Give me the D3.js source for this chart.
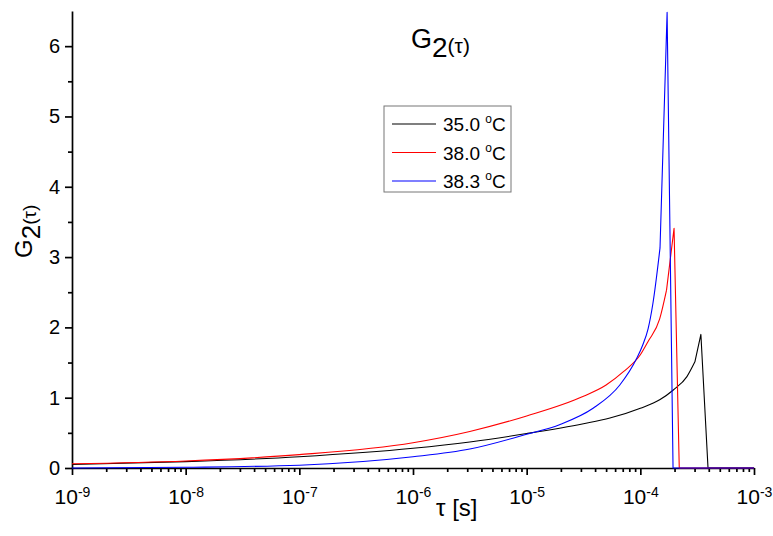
<!DOCTYPE html>
<html>
<head>
<meta charset="utf-8">
<script src="https://cdn.jsdelivr.net/npm/d3@7"></script>
<style>
    body { margin: 0; background: #fff; }
    svg { font-family: "Liberation Sans", Arial, sans-serif; }
    .axis path, .axis line { stroke: #000; stroke-width: 1.7px; }
    .axis text { font-size: 20px; fill: #000; }
</style>
</head>
<body>
<div id="vis"></div>
<script>
const margin = { top: 11, right: 19, bottom: 68, left: 72 };
const width = 773 - margin.left - margin.right;
const height = 536 - margin.top - margin.bottom;

// tau [s] and G2 values (last 3 points: peak, drop, tail)
const tau350 = [1e-9, 1e-8, 1e-7, 1e-6, 3.16e-6, 1e-5, 3.16e-5, 5.4e-5, 1e-4, 1.48e-4, 1.95e-4, 2.57e-4, 3.02e-4, 3.41e-4, 3.94e-4, 1e-3];
const g350 = [0.05, 0.09, 0.16, 0.28, 0.37, 0.49, 0.63, 0.71, 0.85, 0.97, 1.11, 1.30, 1.51, 1.90, 0, 0];

const tau380 = [1e-9, 1e-8, 1e-7, 1e-6, 3.16e-6, 1e-5, 3.16e-5, 5.0e-5, 7.1e-5, 1e-4, 1.17e-4, 1.48e-4, 1.70e-4, 1.98e-4, 2.2e-4, 1e-3];
const g380 = [0.06, 0.10, 0.19, 0.36, 0.52, 0.74, 1.02, 1.18, 1.37, 1.61, 1.80, 2.12, 2.53, 3.41, 0, 0];

const tau383 = [1e-9, 1e-8, 1e-7, 1e-6, 3.16e-6, 1e-5, 1.97e-5, 3.84e-5, 6.6e-5, 9.3e-5, 1.05e-4, 1.17e-4, 1.29e-4, 1.49e-4, 1.72e-4, 1.94e-4, 1e-3];
const g383 = [0.0, 0.01, 0.04, 0.16, 0.27, 0.48, 0.62, 0.85, 1.18, 1.56, 1.75, 1.98, 2.34, 3.13, 6.48, 0, 0];

const seriesNames = ['35.0', '38.0', '38.3'];
const seriesColors = ['#000000', '#ff0000', '#0000ff'];
const seriesTau = [tau350, tau380, tau383];
const seriesG = [g350, g380, g383];

const xMajor = [-9, -8, -7, -6, -5, -4, -3];
const yMajor = [0, 1, 2, 3, 4, 5, 6];
const yMinor = [0.5, 1.5, 2.5, 3.5, 4.5, 5.5];

const svg = d3.select('#vis')
    .append('svg')
    .attr('width', width + margin.left + margin.right)
    .attr('height', height + margin.top + margin.bottom)
    .append('g')
    .attr('transform', `translate(${margin.left},${margin.top})`);

const xScale = d3.scaleLog().domain([1e-9, 1e-3]).range([0, width]);
const yScale = d3.scaleLinear().domain([0, 6.5]).range([height, 0]);

// minor x ticks (2..9 inside each decade)
let xMinor = [];
xMajor.slice(0, -1).forEach(e => {
    for (let k = 2; k <= 9; k++) xMinor.push(k * Math.pow(10, e));
});

svg.append('g')
    .attr('class', 'axis')
    .attr('transform', `translate(0,${height})`)
    .call(d3.axisBottom(xScale).tickValues(xMinor).tickSize(4).tickFormat(''))
    .select('.domain').remove();

const xAxis = svg.append('g')
    .attr('class', 'axis')
    .attr('transform', `translate(0,${height})`)
    .call(d3.axisBottom(xScale)
        .tickValues(xMajor.map(e => Math.pow(10, e)))
        .tickSize(7).tickSizeOuter(0).tickPadding(8)
        .tickFormat(''));

xAxis.selectAll('.tick text')
    .attr('dy', '1.0em')
    .style('font-size', '21px')
    .each(function (d) {
        const t = d3.select(this);
        t.append('tspan').text('10');
        t.append('tspan')
            .attr('dy', '-0.5em')
            .style('font-size', '14px')
            .text(Math.round(Math.log10(d)));
    });

svg.append('g')
    .attr('class', 'axis')
    .call(d3.axisLeft(yScale).tickValues(yMinor).tickSize(4).tickFormat(''))
    .select('.domain').remove();

svg.append('g')
    .attr('class', 'axis')
    .call(d3.axisLeft(yScale).tickValues(yMajor).tickSize(7).tickSizeOuter(0).tickPadding(5)
        .tickFormat(d3.format('d')));

// curves: smooth rise, straight segments into the peak and the drop
const smooth = d3.line()
    .x(d => xScale(d[0]))
    .y(d => yScale(d[1]))
    .curve(d3.curveMonotoneX);
const straight = d3.line()
    .x(d => xScale(d[0]))
    .y(d => yScale(d[1]));

seriesTau.forEach((taus, i) => {
    const pts = taus.map((t, j) => [t, seriesG[i][j]]);
    const n = pts.length;
    svg.append('path')
        .datum(pts.slice(0, n - 3))
        .attr('fill', 'none')
        .attr('stroke', seriesColors[i])
        .attr('stroke-width', 1.1)
        .attr('d', smooth);
    svg.append('path')
        .datum(pts.slice(n - 4))
        .attr('fill', 'none')
        .attr('stroke', seriesColors[i])
        .attr('stroke-width', 1.1)
        .attr('stroke-linejoin', 'round')
        .attr('d', straight);
});

// title
const title = svg.append('text')
    .attr('x', 411 - margin.left)
    .attr('y', 48 - margin.top)
    .style('font-size', '27px');
title.append('tspan').text('G');
title.append('tspan').attr('dy', 9).style('font-size', '28px').text('2');
title.append('tspan').attr('dy', -4).style('font-size', '21px').text('(τ)');

// axis labels
svg.append('text')
    .attr('x', 436 - margin.left)
    .attr('y', 516 - margin.top)
    .style('font-size', '24px')
    .text('τ [s]');

const yLab = svg.append('text')
    .attr('transform', `translate(${32 - margin.left},${258 - margin.top}) rotate(-90)`)
    .style('font-size', '24px');
yLab.append('tspan').text('G');
yLab.append('tspan').attr('dy', 8).style('font-size', '26px').text('2');
yLab.append('tspan').attr('dy', -4).style('font-size', '19px').text('(τ)');

// legend
const legend = svg.append('g')
    .attr('transform', `translate(${384 - margin.left},${106 - margin.top})`);

legend.append('rect')
    .attr('width', 127)
    .attr('height', 86)
    .attr('fill', '#fff')
    .attr('stroke', '#777')
    .attr('stroke-width', 1);

seriesNames.forEach((name, i) => {
    const y = 18 + i * 28.5;
    legend.append('line')
        .attr('x1', 8).attr('x2', 52)
        .attr('y1', y).attr('y2', y)
        .attr('stroke', seriesColors[i])
        .attr('stroke-width', 1.1);
    const t = legend.append('text')
        .attr('x', 59)
        .attr('y', y + 7)
        .style('font-size', '19px');
    t.append('tspan').text(name + ' ');
    t.append('tspan').attr('dy', -8).style('font-size', '12px').text('o');
    t.append('tspan').attr('dy', 8).text('C');
});
</script>
</body>
</html>
